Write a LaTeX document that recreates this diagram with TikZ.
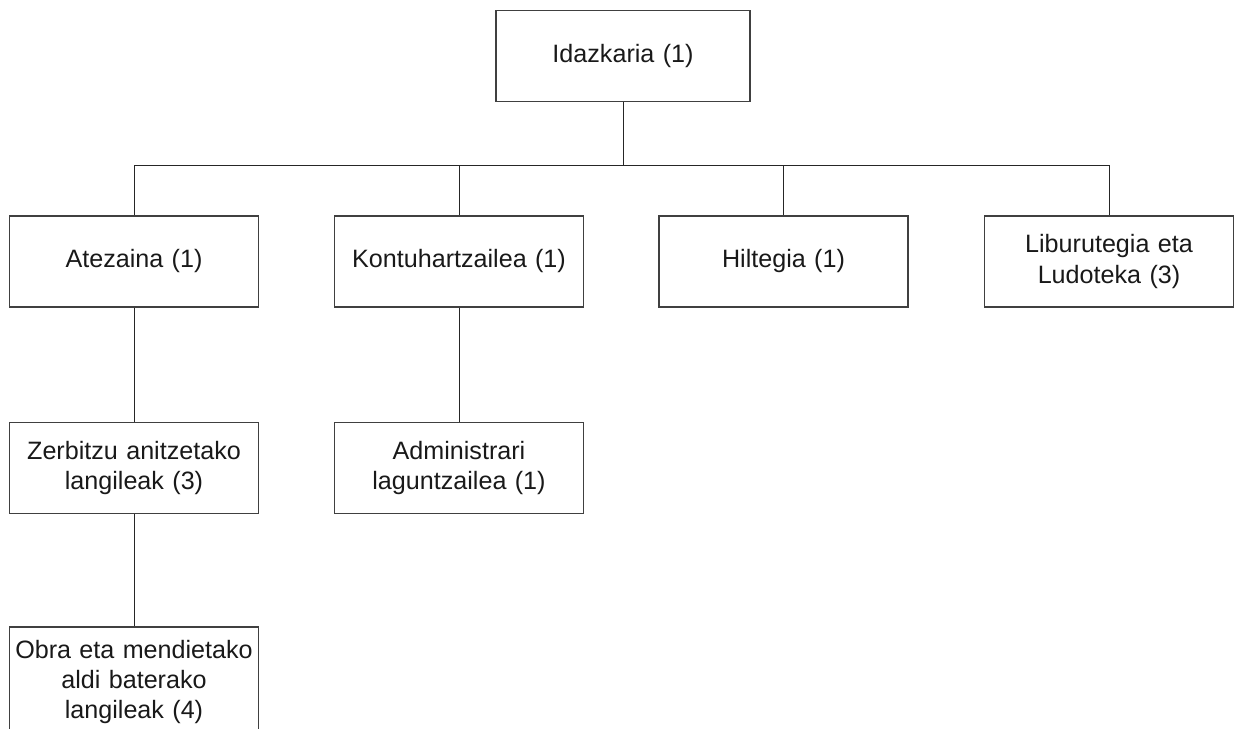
\documentclass[tikz,border=0pt]{standalone}
\usepackage{fontspec}
\setmainfont{Liberation Sans}
\tikzset{
	unit/.style={draw=black!75, line width=0.6pt, minimum width=49.8mm, minimum height=18.2mm, text width=49mm, align=center, inner sep=0pt, text=black!90, font=\fontsize{14.3}{17.1}\selectfont},
	link/.style={draw=black!85, line width=0.5pt}
}
\begin{document}
\begin{tikzpicture}[x=0.2mm, y=-0.2mm]
	\useasboundingbox (0,0) rectangle (1234,729);
	\def \rowa{261.5}
	\def \rowb{468}
	\node[unit, minimum width=50.8mm] (ida) at (623,56) {Idazkaria (1)};
	\node[unit] (ate) at (134,\rowa) {Atezaina (1)};
	\node[unit] (kon) at (459,\rowa) {Kontuhartzailea (1)};
	\node[unit] (hil) at (783.5,\rowa) {Hiltegia (1)};
	\node[unit] (lib) at (1109,\rowa) {Liburutegia eta\\Ludoteka (3)};
	\node[unit] (zer) at (134,\rowb) {Zerbitzu anitzetako\\langileak (3)};
	\node[unit] (adm) at (459,\rowb) {Administrari\\laguntzailea (1)};
	\node[unit, minimum height=22mm] (obr) at (134,682) {Obra eta mendietako\\aldi baterako\\langileak (4)};
	\coordinate (bus) at (623,165);
	\draw[link] (ida.south) -- (bus);
	\foreach \n in {ate,kon,hil,lib}
	{ \draw[link] (bus) -| (\n.north);
	}
	\draw[link] (ate.south) -- (zer.north);
	\draw[link] (kon.south) -- (adm.north);
	\draw[link] (zer.south) -- (obr.north);
\end{tikzpicture}
\end{document}
